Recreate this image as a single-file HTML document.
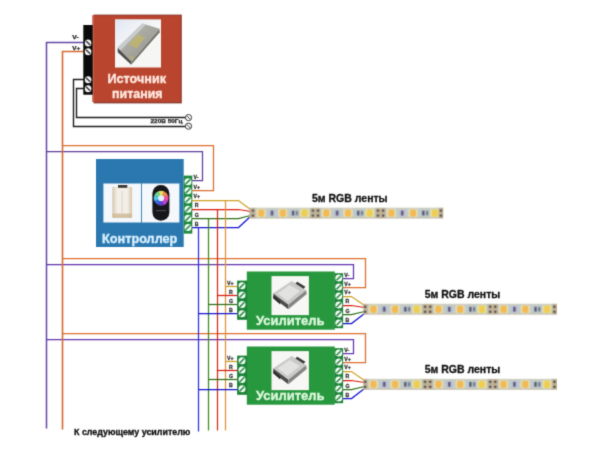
<!DOCTYPE html>
<html><head><meta charset="utf-8"><title>RGB</title>
<style>
html,body{margin:0;padding:0;background:#fff;}
body{width:600px;height:450px;overflow:hidden;}
svg{display:block;}
text{font-family:"Liberation Sans",sans-serif;font-weight:bold;}
.b{stroke:#111;stroke-width:0.3;}
.b2{stroke:#222;stroke-width:0.25;}
.l{stroke:#333;stroke-width:0.3;}
</style></head><body>
<svg width="600" height="450" viewBox="0 0 600 450">
<defs>
<filter id="wb" x="-20%" y="-20%" width="140%" height="140%"><feGaussianBlur stdDeviation="0.7"/></filter>
<filter id="soft" filterUnits="userSpaceOnUse" x="0" y="0" width="600" height="450" color-interpolation-filters="sRGB"><feConvolveMatrix order="3" kernelMatrix="1 5 1 5 25 5 1 5 1" divisor="49" edgeMode="duplicate" preserveAlpha="false"/></filter>
<linearGradient id="psu" x1="0" y1="0" x2="1" y2="1"><stop offset="0" stop-color="#bcbdb8"/><stop offset="0.55" stop-color="#a4a49c"/><stop offset="1" stop-color="#85857d"/></linearGradient>
<linearGradient id="ctl" x1="0" y1="0" x2="1" y2="0"><stop offset="0" stop-color="#d6c6ac"/><stop offset="0.25" stop-color="#f3efe8"/><stop offset="0.75" stop-color="#f3efe8"/><stop offset="1" stop-color="#d6c6ac"/></linearGradient>
<linearGradient id="sky" x1="0" y1="0" x2="0.8" y2="1"><stop offset="0" stop-color="#dfe7f4"/><stop offset="0.45" stop-color="#f0f3f8" stop-opacity="0.6"/><stop offset="0.7" stop-color="#ffffff" stop-opacity="0"/></linearGradient>
<radialGradient id="wheel"><stop offset="0" stop-color="#ffffff"/><stop offset="0.45" stop-color="#9ad0f0"/><stop offset="0.75" stop-color="#b040c0"/><stop offset="1" stop-color="#402060"/></radialGradient>
<g id="pad">
  <rect x="-5" y="0.4" width="10" height="10.2" fill="#bfb298"/>
  <circle cx="-2.6" cy="2.9" r="1.25" fill="#544c44"/><circle cx="-2.6" cy="8.1" r="1.25" fill="#544c44"/>
  <circle cx="2.6" cy="2.9" r="1.25" fill="#544c44"/><circle cx="2.6" cy="8.1" r="1.25" fill="#544c44"/>
</g>
<g id="led"><rect x="-4.6" y="1.5" width="9.2" height="8" rx="1.2" fill="#ecdfb2"/><rect x="-3.1" y="2" width="6.2" height="7" rx="1.8" fill="#f2ba54"/></g>
<g id="led2"><rect x="-4.6" y="1.5" width="9.2" height="8" rx="1.2" fill="#e8e2a8"/><rect x="-3.1" y="2" width="6.2" height="7" rx="1.8" fill="#eecd52"/></g>
<g id="seg">
  <use href="#pad" x="0" y="0"/>
  <use href="#led" x="10.85" y="0"/>
  <rect x="19.2" y="2.4" width="5" height="6.2" rx="1" fill="#b8b4d0"/><rect x="20.6" y="3.2" width="2.2" height="4.6" fill="#56527a"/>
  <use href="#led" x="32.55" y="0"/>
  <rect x="40.6" y="2.4" width="8" height="6.2" rx="1" fill="#bcc2ce"/><rect x="41.6" y="3.2" width="2.4" height="4.6" fill="#545a6e"/>
  <rect x="45.6" y="3.4" width="2" height="4.2" fill="#6e7a7c"/>
  <use href="#led2" x="54.25" y="0"/>
</g>
</defs>
<rect width="600" height="450" fill="#ffffff"/>
<g filter="url(#soft)">

<polyline points="85.5,42.5 46.5,42.5 46.5,428.5" fill="none" stroke="#6444a4" stroke-width="1.5" stroke-linejoin="miter"/>
<polyline points="46.5,151.5 202.5,151.5 202.5,180.5 191.5,180.5" fill="none" stroke="#5c3c9c" stroke-width="1.25" stroke-linejoin="miter"/>
<polyline points="46.5,264.5 353.5,264.5 353.5,278.5 342.5,278.5" fill="none" stroke="#6234ac" stroke-width="1.25" stroke-linejoin="miter"/>
<polyline points="46.5,339.5 353.5,339.5 353.5,353.5 342.5,353.5" fill="none" stroke="#6234ac" stroke-width="1.25" stroke-linejoin="miter"/>
<polyline points="85.5,51.5 62.5,51.5 62.5,429.5" fill="none" stroke="#d66a30" stroke-width="1.6" stroke-linejoin="miter"/>
<polyline points="62.5,145.5 213.5,145.5 213.5,190.5 191.5,190.5" fill="none" stroke="#dc6c2c" stroke-width="1.25" stroke-linejoin="miter"/>
<polyline points="62.5,258.5 365.5,258.5 365.5,287.5 342.5,287.5" fill="none" stroke="#de6c2e" stroke-width="1.25" stroke-linejoin="miter"/>
<polyline points="62.5,333.5 365.5,333.5 365.5,362.5 342.5,362.5" fill="none" stroke="#de6c2e" stroke-width="1.25" stroke-linejoin="miter"/>
<polyline points="85.5,79.5 73.5,79.5 73.5,126.5 185.5,126.5" fill="none" stroke="#1c1c1c" stroke-width="1.4" stroke-linejoin="miter"/>
<polyline points="85.5,88.5 76.5,88.5 76.5,117.5 185.5,117.5" fill="none" stroke="#1c1c1c" stroke-width="1.4" stroke-linejoin="miter"/>
<polyline points="191.5,200.5 238.5,200.5 250.5,209.5" fill="none" stroke="#cfa024" stroke-width="1.25" stroke-linejoin="miter"/>
<polyline points="191.5,209.5 238.5,209.5 250.5,211.5" fill="none" stroke="#d81a0c" stroke-width="1.25" stroke-linejoin="miter"/>
<polyline points="191.5,218.5 238.5,218.5 250.5,215.5" fill="none" stroke="#2e7014" stroke-width="1.25" stroke-linejoin="miter"/>
<polyline points="191.5,227.5 238.5,227.5 250.5,216.5" fill="none" stroke="#1414d0" stroke-width="1.25" stroke-linejoin="miter"/>
<polyline points="225.5,200.5 225.5,430.5" fill="none" stroke="#e09038" stroke-width="1.25" stroke-linejoin="miter"/>
<polyline points="217.5,209.5 217.5,430.5" fill="none" stroke="#d62a14" stroke-width="1.25" stroke-linejoin="miter"/>
<polyline points="208.5,218.5 208.5,430.5" fill="none" stroke="#3c8c1c" stroke-width="1.25" stroke-linejoin="miter"/>
<polyline points="198.5,227.5 198.5,431.5" fill="none" stroke="#2c2ce8" stroke-width="1.25" stroke-linejoin="miter"/>
<polyline points="225.5,286.5 238.5,286.5" fill="none" stroke="#cfa024" stroke-width="1.25" stroke-linejoin="miter"/>
<polyline points="217.5,295.5 238.5,295.5" fill="none" stroke="#d81a0c" stroke-width="1.25" stroke-linejoin="miter"/>
<polyline points="208.5,304.5 238.5,304.5" fill="none" stroke="#2e7014" stroke-width="1.25" stroke-linejoin="miter"/>
<polyline points="198.5,313.5 238.5,313.5" fill="none" stroke="#1414d0" stroke-width="1.25" stroke-linejoin="miter"/>
<polyline points="342.5,296.5 351.5,296.5 364.5,305.5" fill="none" stroke="#cfa024" stroke-width="1.25" stroke-linejoin="miter"/>
<polyline points="342.5,305.5 351.5,305.5 364.5,307.5" fill="none" stroke="#d81a0c" stroke-width="1.25" stroke-linejoin="miter"/>
<polyline points="342.5,314.5 351.5,314.5 364.5,311.5" fill="none" stroke="#2e7014" stroke-width="1.25" stroke-linejoin="miter"/>
<polyline points="342.5,323.5 351.5,323.5 364.5,313.5" fill="none" stroke="#1414d0" stroke-width="1.25" stroke-linejoin="miter"/>
<polyline points="225.5,361.5 238.5,361.5" fill="none" stroke="#cfa024" stroke-width="1.25" stroke-linejoin="miter"/>
<polyline points="217.5,370.5 238.5,370.5" fill="none" stroke="#d81a0c" stroke-width="1.25" stroke-linejoin="miter"/>
<polyline points="208.5,379.5 238.5,379.5" fill="none" stroke="#2e7014" stroke-width="1.25" stroke-linejoin="miter"/>
<polyline points="198.5,389.5 238.5,389.5" fill="none" stroke="#1414d0" stroke-width="1.25" stroke-linejoin="miter"/>
<polyline points="342.5,371.5 351.5,371.5 364.5,380.5" fill="none" stroke="#cfa024" stroke-width="1.25" stroke-linejoin="miter"/>
<polyline points="342.5,380.5 351.5,380.5 364.5,382.5" fill="none" stroke="#d81a0c" stroke-width="1.25" stroke-linejoin="miter"/>
<polyline points="342.5,389.5 351.5,389.5 364.5,386.5" fill="none" stroke="#2e7014" stroke-width="1.25" stroke-linejoin="miter"/>
<polyline points="342.5,398.5 351.5,398.5 364.5,388.5" fill="none" stroke="#1414d0" stroke-width="1.25" stroke-linejoin="miter"/>
<rect x="93.5" y="14.6" width="88.3" height="88.8" fill="#8d3a30"/>
<rect x="92.5" y="15.6" width="88" height="86.4" fill="#b9452e"/><rect x="92.5" y="15" width="1.5" height="87" fill="#c4604a"/>
<rect x="83.3" y="25" width="9.4" height="69.7" fill="#0a0a0a"/>
<ellipse cx="88.1" cy="43" rx="3.3" ry="3.5" fill="#f2f2f2"/><line x1="86" y1="41.0" x2="90.2" y2="45.0" stroke="#2a2a2a" stroke-width="1.3"/>
<ellipse cx="88.1" cy="51.7" rx="3.3" ry="3.5" fill="#f2f2f2"/><line x1="86" y1="49.7" x2="90.2" y2="53.7" stroke="#2a2a2a" stroke-width="1.3"/>
<ellipse cx="88.1" cy="79.7" rx="3.3" ry="3.5" fill="#f2f2f2"/><line x1="86" y1="77.7" x2="90.2" y2="81.7" stroke="#2a2a2a" stroke-width="1.3"/>
<ellipse cx="88.1" cy="88.7" rx="3.3" ry="3.5" fill="#f2f2f2"/><line x1="86" y1="86.7" x2="90.2" y2="90.7" stroke="#2a2a2a" stroke-width="1.3"/>
<rect x="115" y="19.5" width="46" height="48" fill="#f6f6f4"/>
<rect x="115" y="19.5" width="46" height="48" fill="url(#sky)"/>
<polygon points="159.5,28.8 159.7,32.3 131.2,64.8 131.5,61.5" fill="#74746c"/>
<polygon points="117.7,47.6 131.5,61.5 131.2,64.8 117.7,52.2" fill="#4d4d4a"/>
<polygon points="142.4,23.5 159.5,28.8 131.5,61.5 117.7,47.6" fill="url(#psu)"/>
<polygon points="142.4,23.5 146,24.6 120.5,50.4 117.7,47.6" fill="#cfd3d6" opacity="0.8"/>
<polygon points="137.5,34.5 145,37.5 136.5,48.5 129,44.5" fill="#c0b765" opacity="0.75"/>
<polygon points="131,55.5 134.4,58.6 132.3,60.8 129,57.7" fill="#c3ba62" opacity="0.5"/>
<text x="136.7" y="83" font-size="12.65" text-anchor="middle" fill="#ffeae2" stroke="#ffeae2" stroke-width="0.35">Источник</text>
<text x="137.3" y="97.7" font-size="12.4" text-anchor="middle" fill="#ffeae2" stroke="#ffeae2" stroke-width="0.35">питания</text>
<text x="72.3" y="39.4" font-size="6.2" textLength="6.4" lengthAdjust="spacingAndGlyphs" fill="#222" class="b2">V-</text>
<text x="72.3" y="49.6" font-size="6.2" textLength="8" lengthAdjust="spacingAndGlyphs" fill="#222" class="b2">V+</text>
<circle cx="188.5" cy="117.6" r="3.1" fill="#fff" stroke="#222" stroke-width="0.9"/><line x1="186.8" y1="115.8" x2="190.3" y2="119.39999999999999" stroke="#222" stroke-width="0.9"/>
<circle cx="188.5" cy="126.2" r="3.1" fill="#fff" stroke="#222" stroke-width="0.9"/><line x1="186.8" y1="124.4" x2="190.3" y2="128.0" stroke="#222" stroke-width="0.9"/>
<text x="150.5" y="123.3" font-size="6" textLength="32" lengthAdjust="spacingAndGlyphs" fill="#222" class="b2">220В 50Гц</text>
<rect x="96" y="159" width="87.7" height="88" fill="#2b78b0"/>
<rect x="103.4" y="183.5" width="37.6" height="39" fill="#f4f8fc"/>
<rect x="141.9" y="183.5" width="37.5" height="39" fill="#f4f8fc"/>
<rect x="112.3" y="186.7" width="19.8" height="31.2" rx="1.2" fill="url(#ctl)"/>
<rect x="112.3" y="213.5" width="19.8" height="4.4" rx="1.2" fill="#cdb795" opacity="0.8"/>
<rect x="121.6" y="191" width="1" height="22" fill="#d9d0c0"/>
<rect x="118" y="185" width="9.3" height="2.8" fill="#3c3934"/>
<rect x="152.4" y="185" width="17" height="35.7" rx="8.5" fill="#17161a"/>
<g filter="url(#wb)">
<path d="M161.1,198.2 L158.27,191.36 A7.4,7.4 0 0 1 164.17,191.47 Z" fill="#e8e060"/>
<path d="M161.1,198.2 L163.93,191.36 A7.4,7.4 0 0 1 168.03,195.61 Z" fill="#f08a50"/>
<path d="M161.1,198.2 L167.94,195.37 A7.4,7.4 0 0 1 167.83,201.27 Z" fill="#f050a0"/>
<path d="M161.1,198.2 L167.94,201.03 A7.4,7.4 0 0 1 163.69,205.13 Z" fill="#c040d0"/>
<path d="M161.1,198.2 L163.93,205.04 A7.4,7.4 0 0 1 158.03,204.93 Z" fill="#6040d0"/>
<path d="M161.1,198.2 L158.27,205.04 A7.4,7.4 0 0 1 154.17,200.79 Z" fill="#3070e0"/>
<path d="M161.1,198.2 L154.26,201.03 A7.4,7.4 0 0 1 154.37,195.13 Z" fill="#50c8e8"/>
<path d="M161.1,198.2 L154.26,195.37 A7.4,7.4 0 0 1 158.51,191.27 Z" fill="#70d890"/>
</g>
<circle cx="161.1" cy="198.2" r="3.0" fill="#e4f0ff"/>
<rect x="156" y="210" width="10" height="1.2" fill="#4a4650"/>
<text x="139.7" y="242.6" font-size="12.7" text-anchor="middle" fill="#d9f0ff" stroke="#d9f0ff" stroke-width="0.35">Контроллер</text>
<rect x="183.7" y="175.6" width="8.6" height="58" fill="#1e8a3c"/>
<circle cx="188" cy="181.7" r="3.5" fill="#f4f8f4"/><line x1="185.69" y1="184.01" x2="190.31" y2="179.39" stroke="#1e8a3c" stroke-width="1.5"/>
<circle cx="188" cy="190.8" r="3.5" fill="#f4f8f4"/><line x1="185.69" y1="193.11" x2="190.31" y2="188.49" stroke="#1e8a3c" stroke-width="1.5"/>
<circle cx="188" cy="200" r="3.5" fill="#f4f8f4"/><line x1="185.69" y1="202.31" x2="190.31" y2="197.69" stroke="#1e8a3c" stroke-width="1.5"/>
<circle cx="188" cy="209.2" r="3.5" fill="#f4f8f4"/><line x1="185.69" y1="211.51" x2="190.31" y2="206.89" stroke="#1e8a3c" stroke-width="1.5"/>
<circle cx="188" cy="218.3" r="3.5" fill="#f4f8f4"/><line x1="185.69" y1="220.61" x2="190.31" y2="215.99" stroke="#1e8a3c" stroke-width="1.5"/>
<circle cx="188" cy="227.5" r="3.5" fill="#f4f8f4"/><line x1="185.69" y1="229.81" x2="190.31" y2="225.19" stroke="#1e8a3c" stroke-width="1.5"/>
<text x="193.6" y="179.4" font-size="5.2" fill="#333" class="l">V-</text>
<text x="193.6" y="188.6" font-size="5.2" fill="#333" class="l">V+</text>
<text x="193.6" y="198.2" font-size="5.2" fill="#333" class="l">V+</text>
<text x="194.8" y="207.4" font-size="5.2" fill="#333" class="l">R</text>
<text x="194.8" y="216.6" font-size="5.2" fill="#333" class="l">G</text>
<text x="194.8" y="225.6" font-size="5.2" fill="#333" class="l">B</text>
<rect x="246.8" y="271.5" width="88" height="58.2" fill="#28983f"/>
<rect x="237.1" y="280.6" width="10" height="39.2" fill="#1c8438"/>
<rect x="334.5" y="273.2" width="8.6" height="55" fill="#1c8438"/>
<circle cx="242" cy="285.8" r="3.5" fill="#f4f8f4"/><line x1="239.69" y1="288.11" x2="244.31" y2="283.49" stroke="#1e8a3c" stroke-width="1.5"/>
<circle cx="242" cy="295" r="3.5" fill="#f4f8f4"/><line x1="239.69" y1="297.31" x2="244.31" y2="292.69" stroke="#1e8a3c" stroke-width="1.5"/>
<circle cx="242" cy="304.6" r="3.5" fill="#f4f8f4"/><line x1="239.69" y1="306.91" x2="244.31" y2="302.29" stroke="#1e8a3c" stroke-width="1.5"/>
<circle cx="242" cy="313.8" r="3.5" fill="#f4f8f4"/><line x1="239.69" y1="316.11" x2="244.31" y2="311.49" stroke="#1e8a3c" stroke-width="1.5"/>
<circle cx="338.8" cy="278" r="3.5" fill="#f4f8f4"/><line x1="336.49" y1="280.31" x2="341.11" y2="275.69" stroke="#1e8a3c" stroke-width="1.5"/>
<circle cx="338.8" cy="287" r="3.5" fill="#f4f8f4"/><line x1="336.49" y1="289.31" x2="341.11" y2="284.69" stroke="#1e8a3c" stroke-width="1.5"/>
<circle cx="338.8" cy="296" r="3.5" fill="#f4f8f4"/><line x1="336.49" y1="298.31" x2="341.11" y2="293.69" stroke="#1e8a3c" stroke-width="1.5"/>
<circle cx="338.8" cy="305" r="3.5" fill="#f4f8f4"/><line x1="336.49" y1="307.31" x2="341.11" y2="302.69" stroke="#1e8a3c" stroke-width="1.5"/>
<circle cx="338.8" cy="314" r="3.5" fill="#f4f8f4"/><line x1="336.49" y1="316.31" x2="341.11" y2="311.69" stroke="#1e8a3c" stroke-width="1.5"/>
<circle cx="338.8" cy="323" r="3.5" fill="#f4f8f4"/><line x1="336.49" y1="325.31" x2="341.11" y2="320.69" stroke="#1e8a3c" stroke-width="1.5"/>
<rect x="271.5" y="276.1" width="37.4" height="39" fill="#f7f7f5"/>
<g transform="translate(0,0)"><polygon points="273.3,293.3 273.3,297.8 288.3,309.2 288.3,304.6" fill="#4c4c4a"/><polygon points="288.3,304.6 288.3,309.2 306.7,294 306.1,290" fill="#858583"/><polygon points="291.7,281.1 306.1,290 288.3,304.6 273.3,293.3" fill="#c9c9c7"/><polygon points="289.5,285 300,291 287.5,301 277.5,293.5" fill="#e2e2e0"/><polygon points="297.2,281.8 305.4,286.8 303.6,288.8 295.4,283.6" fill="#383836"/><polygon points="273.3,295.5 280.3,301.6 280.3,304.4 273.3,298.4" fill="#2a2a28"/></g>
<text x="290.3" y="324.7" font-size="13" text-anchor="middle" fill="#dcf8dc" stroke="#dcf8dc" stroke-width="0.35">Усилитель</text>
<text x="227" y="284.6" font-size="5.2" fill="#333" class="l">V+</text>
<text x="229" y="293.8" font-size="5.2" fill="#333" class="l">R</text>
<text x="229" y="303.2" font-size="5.2" fill="#333" class="l">G</text>
<text x="229" y="312.4" font-size="5.2" fill="#333" class="l">B</text>
<text x="344.3" y="276.8" font-size="5.2" fill="#333" class="l">V-</text>
<text x="344.3" y="285.8" font-size="5.2" fill="#333" class="l">V+</text>
<text x="344.3" y="293.8" font-size="5.2" fill="#333" class="l">V+</text>
<text x="345.5" y="303" font-size="5.2" fill="#333" class="l">R</text>
<text x="345.5" y="312.6" font-size="5.2" fill="#333" class="l">G</text>
<text x="345.5" y="321.6" font-size="5.2" fill="#333" class="l">B</text>
<rect x="246.8" y="346.5" width="88" height="58.2" fill="#28983f"/>
<rect x="237.1" y="355.6" width="10" height="39.2" fill="#1c8438"/>
<rect x="334.5" y="348.2" width="8.6" height="55" fill="#1c8438"/>
<circle cx="242" cy="360.8" r="3.5" fill="#f4f8f4"/><line x1="239.69" y1="363.11" x2="244.31" y2="358.49" stroke="#1e8a3c" stroke-width="1.5"/>
<circle cx="242" cy="370" r="3.5" fill="#f4f8f4"/><line x1="239.69" y1="372.31" x2="244.31" y2="367.69" stroke="#1e8a3c" stroke-width="1.5"/>
<circle cx="242" cy="379.6" r="3.5" fill="#f4f8f4"/><line x1="239.69" y1="381.91" x2="244.31" y2="377.29" stroke="#1e8a3c" stroke-width="1.5"/>
<circle cx="242" cy="388.8" r="3.5" fill="#f4f8f4"/><line x1="239.69" y1="391.11" x2="244.31" y2="386.49" stroke="#1e8a3c" stroke-width="1.5"/>
<circle cx="338.8" cy="353" r="3.5" fill="#f4f8f4"/><line x1="336.49" y1="355.31" x2="341.11" y2="350.69" stroke="#1e8a3c" stroke-width="1.5"/>
<circle cx="338.8" cy="362" r="3.5" fill="#f4f8f4"/><line x1="336.49" y1="364.31" x2="341.11" y2="359.69" stroke="#1e8a3c" stroke-width="1.5"/>
<circle cx="338.8" cy="371" r="3.5" fill="#f4f8f4"/><line x1="336.49" y1="373.31" x2="341.11" y2="368.69" stroke="#1e8a3c" stroke-width="1.5"/>
<circle cx="338.8" cy="380" r="3.5" fill="#f4f8f4"/><line x1="336.49" y1="382.31" x2="341.11" y2="377.69" stroke="#1e8a3c" stroke-width="1.5"/>
<circle cx="338.8" cy="389" r="3.5" fill="#f4f8f4"/><line x1="336.49" y1="391.31" x2="341.11" y2="386.69" stroke="#1e8a3c" stroke-width="1.5"/>
<circle cx="338.8" cy="398" r="3.5" fill="#f4f8f4"/><line x1="336.49" y1="400.31" x2="341.11" y2="395.69" stroke="#1e8a3c" stroke-width="1.5"/>
<rect x="271.5" y="351.1" width="37.4" height="39" fill="#f7f7f5"/>
<g transform="translate(0,75)"><polygon points="273.3,293.3 273.3,297.8 288.3,309.2 288.3,304.6" fill="#4c4c4a"/><polygon points="288.3,304.6 288.3,309.2 306.7,294 306.1,290" fill="#858583"/><polygon points="291.7,281.1 306.1,290 288.3,304.6 273.3,293.3" fill="#c9c9c7"/><polygon points="289.5,285 300,291 287.5,301 277.5,293.5" fill="#e2e2e0"/><polygon points="297.2,281.8 305.4,286.8 303.6,288.8 295.4,283.6" fill="#383836"/><polygon points="273.3,295.5 280.3,301.6 280.3,304.4 273.3,298.4" fill="#2a2a28"/></g>
<text x="290.3" y="399.7" font-size="13" text-anchor="middle" fill="#dcf8dc" stroke="#dcf8dc" stroke-width="0.35">Усилитель</text>
<text x="227" y="359.6" font-size="5.2" fill="#333" class="l">V+</text>
<text x="229" y="368.8" font-size="5.2" fill="#333" class="l">R</text>
<text x="229" y="378.2" font-size="5.2" fill="#333" class="l">G</text>
<text x="229" y="387.4" font-size="5.2" fill="#333" class="l">B</text>
<text x="344.3" y="351.8" font-size="5.2" fill="#333" class="l">V-</text>
<text x="344.3" y="360.8" font-size="5.2" fill="#333" class="l">V+</text>
<text x="344.3" y="368.8" font-size="5.2" fill="#333" class="l">V+</text>
<text x="345.5" y="378" font-size="5.2" fill="#333" class="l">R</text>
<text x="345.5" y="387.6" font-size="5.2" fill="#333" class="l">G</text>
<text x="345.5" y="396.6" font-size="5.2" fill="#333" class="l">B</text>
<svg x="249.3" y="207.6" width="194" height="11" viewBox="0 0 194 11" overflow="hidden"><g>
<rect x="0" y="0" width="194" height="11" fill="#bfcbcb"/><rect x="0" y="0" width="194" height="1.3" fill="#d2d2c2"/><rect x="0" y="9.7" width="194" height="1.3" fill="#c9c2ac"/>
<use href="#seg" x="1.05" y="0"/>
<use href="#seg" x="66.15" y="0"/>
<use href="#seg" x="131.25" y="0"/>
<use href="#seg" x="196.35" y="0"/>
<use href="#pad" x="194.20" y="0"/>
</g></svg>
<svg x="363.3" y="303.7" width="193.5" height="11" viewBox="0 0 193.5 11" overflow="hidden"><g>
<rect x="0" y="0" width="193.5" height="11" fill="#bfcbcb"/><rect x="0" y="0" width="193.5" height="1.3" fill="#d2d2c2"/><rect x="0" y="9.7" width="193.5" height="1.3" fill="#c9c2ac"/>
<use href="#seg" x="-0.75" y="0"/>
<use href="#seg" x="64.35" y="0"/>
<use href="#seg" x="129.45" y="0"/>
<use href="#seg" x="194.55" y="0"/>
<use href="#pad" x="193.70" y="0"/>
</g></svg>
<svg x="363.3" y="378.8" width="193.5" height="11" viewBox="0 0 193.5 11" overflow="hidden"><g>
<rect x="0" y="0" width="193.5" height="11" fill="#bfcbcb"/><rect x="0" y="0" width="193.5" height="1.3" fill="#d2d2c2"/><rect x="0" y="9.7" width="193.5" height="1.3" fill="#c9c2ac"/>
<use href="#seg" x="-0.75" y="0"/>
<use href="#seg" x="64.35" y="0"/>
<use href="#seg" x="129.45" y="0"/>
<use href="#seg" x="194.55" y="0"/>
<use href="#pad" x="193.70" y="0"/>
</g></svg>
<text x="349.8" y="201.7" font-size="10.5" text-anchor="middle" fill="#111" class="b">5м RGB ленты</text>
<text x="462.5" y="297.7" font-size="10.5" text-anchor="middle" fill="#111" class="b">5м RGB ленты</text>
<text x="462.5" y="372.7" font-size="10.5" text-anchor="middle" fill="#111" class="b">5м RGB ленты</text>
<text x="74" y="434.8" font-size="8.9" fill="#111" class="b">К следующему усилителю</text>
</g></svg></body></html>
